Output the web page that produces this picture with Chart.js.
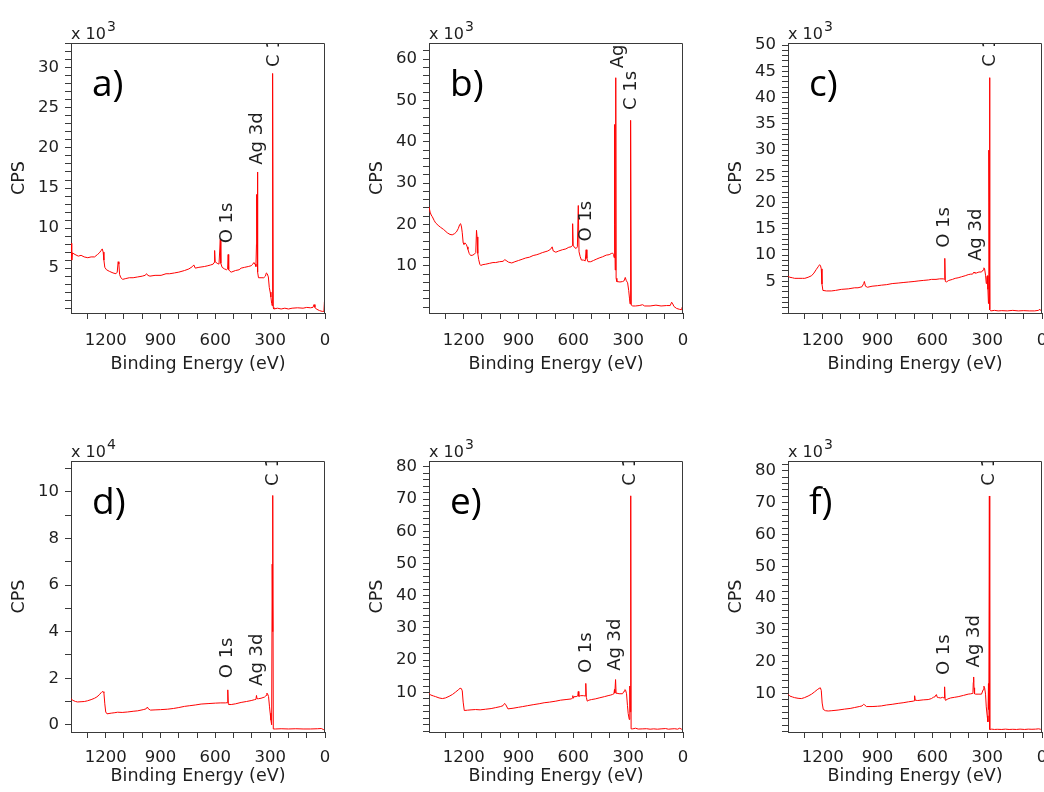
<!DOCTYPE html>
<html>
<head>
<meta charset="utf-8">
<script src="https://cdn.jsdelivr.net/npm/chart.js@4/dist/chart.umd.min.js"></script>
<style>
  html, body { margin: 0; padding: 0; background: #ffffff; overflow: hidden; }
  #page { position: relative; width: 1044px; height: 792px; }
  #page canvas { position: absolute; }
</style>
</head>
<body>
<div id="page"></div>
<script>
// XPS survey spectra: [binding energy (eV), counts per second in the panel's unit]
const spectrumA = [
  [1390, 8.1], [1386, 6.0], [1382, 6.9], [1368, 6.7], [1350, 6.5], [1335, 6.6], [1318, 6.4], [1298, 6.3],
  [1280, 6.4], [1261, 6.4], [1245, 6.7], [1235, 6.9], [1225, 7.2], [1219, 7.4], [1214, 7.0], [1210, 6.0],
  [1205, 5.1], [1196, 4.8], [1180, 4.6], [1160, 4.4], [1144, 4.3], [1137, 4.5], [1132, 5.8], [1128, 5.5],
  [1124, 4.2], [1117, 3.8], [1107, 3.6], [1090, 3.7], [1071, 3.8], [1050, 3.8], [1025, 3.9], [1000, 4.0],
  [985, 4.1], [976, 4.3], [970, 4.1], [958, 4.0], [930, 4.1], [897, 4.1], [870, 4.3], [850, 4.3],
  [824, 4.4], [800, 4.5], [769, 4.7], [745, 4.9], [725, 5.2], [718, 5.4], [710, 5.0], [690, 5.1],
  [660, 5.2], [641, 5.3], [625, 5.4], [612, 5.5], [607, 5.7], [604, 7.2], [601, 5.8], [590, 5.6],
  [580, 5.5], [575, 5.5], [573, 8.6], [570, 5.6], [563, 5.1], [550, 4.9], [538, 4.8], [533, 4.9],
  [530, 6.7], [527, 4.8], [520, 4.6], [513, 4.5], [490, 4.7], [470, 4.8], [459, 5.0], [440, 5.1],
  [420, 5.2], [404, 5.3], [395, 5.5], [389, 5.7], [383, 5.5], [378, 5.2], [375, 8.0], [374, 14.2],
  [372, 9.0], [370, 6.0], [369, 17.0], [367, 4.5], [364, 3.8], [350, 3.8], [335, 3.8], [326, 4.0],
  [321, 4.4], [316, 4.3], [310, 3.9], [305, 2.6], [300, 2.0], [296, 1.4], [292, 0.6], [289, 0.3],
  [288, 19.4], [287, 12.0], [285, 29.3], [283, 0.1], [280, -0.1], [260, 0.0], [240, -0.1], [220, 0.0],
  [200, -0.1], [180, 0.0], [150, 0.05], [120, 0.0], [100, 0.1], [80, 0.05], [66, 0.1], [60, 0.45],
  [55, 0.1], [48, -0.1], [30, -0.3], [15, -0.4], [6, -0.4], [3, 0.8], [1, -0.2]
];
const spectrumB = [
  [1390, 24.3], [1384, 23.0], [1378, 22.3], [1372, 21.9], [1362, 21.0], [1354, 20.4], [1340, 19.8], [1326, 19.3],
  [1310, 18.8], [1290, 18.0], [1275, 17.6], [1263, 17.5], [1250, 17.8], [1240, 18.2], [1230, 19.0], [1222, 20.0],
  [1217, 20.2], [1212, 19.4], [1208, 18.0], [1203, 15.6], [1199, 15.2], [1192, 15.5], [1186, 15.2], [1181, 14.6],
  [1177, 14.0], [1170, 13.0], [1162, 12.5], [1150, 12.6], [1140, 12.9], [1134, 13.2], [1130, 18.6], [1127, 17.0],
  [1123, 13.0], [1118, 11.5], [1112, 10.4], [1107, 10.1], [1095, 10.3], [1080, 10.4], [1060, 10.6], [1040, 10.8],
  [1025, 10.8], [1005, 11.0], [985, 11.1], [975, 11.5], [968, 11.3], [955, 10.9], [937, 10.7], [920, 11.0],
  [900, 11.3], [880, 11.6], [861, 11.9], [840, 12.1], [820, 12.5], [800, 12.7], [787, 12.9], [770, 13.2],
  [755, 13.4], [740, 13.6], [725, 14.0], [716, 14.6], [710, 13.6], [696, 13.3], [680, 13.6], [660, 13.9],
  [641, 14.1], [625, 14.5], [612, 14.6], [607, 14.9], [604, 20.2], [601, 15.0], [595, 14.5], [585, 14.2],
  [578, 14.6], [573, 24.6], [569, 13.4], [563, 12.3], [556, 11.4], [545, 11.4], [535, 11.2], [530, 13.9],
  [526, 11.8], [520, 11.0], [505, 11.0], [490, 11.3], [475, 11.6], [459, 11.9], [440, 12.2], [420, 12.6],
  [404, 12.7], [392, 13.0], [386, 13.1], [380, 12.8], [377, 12.0], [375, 44.2], [373, 20.0], [371, 9.0],
  [368, 55.5], [366, 7.0], [362, 6.2], [345, 6.1], [331, 6.2], [322, 6.4], [316, 7.2], [310, 6.4],
  [303, 5.9], [297, 4.0], [293, 2.2], [290, 0.8], [288, 35.6], [287, 20.0], [285, 45.2], [283, 0.5],
  [275, 0.3], [260, 0.3], [240, 0.4], [221, 0.6], [210, 0.3], [180, 0.3], [148, 0.5], [120, 0.3],
  [90, 0.4], [70, 0.4], [62, 1.2], [56, 0.8], [50, 0.2], [35, -0.3], [20, -0.5], [8, -0.6],
  [4, 0.0], [2, 3.8], [1, -0.8]
];
const spectrumC = [
  [1390, 6.0], [1380, 5.8], [1365, 5.7], [1354, 5.6], [1330, 5.6], [1310, 5.6], [1298, 5.6], [1280, 5.8],
  [1261, 6.1], [1248, 6.6], [1235, 7.3], [1225, 7.8], [1217, 8.2], [1212, 8.0], [1208, 7.4], [1204, 4.5],
  [1199, 3.3], [1180, 3.2], [1153, 3.2], [1130, 3.3], [1098, 3.5], [1060, 3.6], [1025, 3.8], [1007, 3.8],
  [985, 4.0], [976, 4.6], [972, 5.0], [966, 4.1], [955, 3.9], [930, 4.1], [900, 4.2], [879, 4.3],
  [850, 4.4], [820, 4.6], [787, 4.7], [760, 4.8], [730, 4.9], [700, 5.0], [678, 5.1], [650, 5.2],
  [620, 5.3], [605, 5.4], [580, 5.4], [560, 5.5], [540, 5.5], [534, 5.4], [532, 9.4], [529, 5.0],
  [524, 4.9], [510, 5.2], [490, 5.4], [475, 5.6], [459, 5.7], [440, 5.9], [420, 6.1], [404, 6.3],
  [390, 6.4], [380, 6.4], [372, 6.8], [368, 6.6], [360, 6.6], [345, 6.8], [331, 6.8], [322, 7.2],
  [318, 7.6], [314, 7.4], [309, 6.2], [305, 4.6], [302, 5.8], [299, 6.1], [296, 3.5], [293, 0.8],
  [291, 30.0], [289, 20.0], [287, 43.8], [285, -0.4], [280, -0.6], [260, -0.5], [240, -0.6], [220, -0.55],
  [190, -0.6], [160, -0.5], [130, -0.6], [100, -0.55], [70, -0.6], [40, -0.6], [20, -0.5], [11, -0.3],
  [5, -0.6], [1, -0.7]
];
const spectrumD = [
  [1390, 1.12], [1380, 1.05], [1365, 1.0], [1354, 0.98], [1335, 0.99], [1317, 1.0], [1300, 1.03], [1280, 1.08],
  [1261, 1.14], [1248, 1.2], [1235, 1.29], [1225, 1.38], [1220, 1.42], [1214, 1.42], [1210, 1.38], [1205, 0.9],
  [1200, 0.55], [1193, 0.47], [1170, 0.5], [1150, 0.52], [1135, 0.54], [1110, 0.53], [1080, 0.55], [1050, 0.58],
  [1025, 0.6], [995, 0.65], [980, 0.68], [972, 0.76], [966, 0.68], [955, 0.63], [930, 0.64], [900, 0.65],
  [861, 0.67], [830, 0.7], [800, 0.74], [769, 0.79], [740, 0.82], [710, 0.85], [678, 0.89], [640, 0.91],
  [600, 0.93], [570, 0.94], [545, 0.94], [535, 0.95], [532, 1.5], [529, 0.9], [526, 0.87], [513, 0.87],
  [490, 0.9], [459, 0.96], [430, 1.0], [404, 1.04], [385, 1.08], [378, 1.09], [375, 1.26], [372, 1.12],
  [364, 1.12], [350, 1.14], [331, 1.19], [322, 1.26], [318, 1.36], [314, 1.32], [309, 1.22], [304, 0.8],
  [300, 0.5], [296, 0.2], [292, 0.0], [289, 6.9], [287, 4.0], [285, 9.85], [283, -0.18], [270, -0.18],
  [240, -0.17], [200, -0.18], [160, -0.17], [120, -0.18], [80, -0.18], [40, -0.17], [20, -0.16], [10, -0.2],
  [2, -0.22]
];
const spectrumE = [
  [1390, 9.7], [1380, 9.2], [1365, 8.9], [1354, 8.7], [1335, 8.3], [1317, 8.1], [1300, 8.3], [1280, 8.8],
  [1261, 9.4], [1245, 10.1], [1230, 10.8], [1220, 11.3], [1213, 11.2], [1208, 10.5], [1203, 7.0], [1197, 4.4],
  [1180, 4.5], [1160, 4.6], [1135, 4.7], [1110, 4.6], [1080, 4.8], [1050, 5.0], [1025, 5.3], [1000, 5.6],
  [985, 5.9], [976, 6.6], [970, 6.2], [958, 4.9], [930, 5.1], [900, 5.4], [879, 5.6], [850, 5.9],
  [820, 6.2], [787, 6.5], [760, 6.8], [730, 7.0], [696, 7.3], [670, 7.6], [640, 7.8], [610, 8.0],
  [605, 8.3], [603, 9.0], [600, 8.2], [596, 8.7], [585, 8.7], [577, 8.9], [575, 9.6], [573, 10.3],
  [570, 8.8], [560, 9.0], [545, 9.0], [535, 8.9], [532, 12.8], [529, 8.5], [524, 7.3], [515, 7.6],
  [500, 7.8], [480, 8.0], [459, 8.3], [430, 8.7], [410, 9.0], [395, 9.2], [385, 9.4], [378, 9.6],
  [375, 10.9], [373, 9.8], [369, 14.0], [366, 9.7], [364, 9.8], [350, 9.6], [331, 9.6], [322, 10.4],
  [318, 10.9], [314, 10.7], [309, 9.6], [304, 6.0], [300, 3.5], [294, 1.6], [291, 12.0], [289, 4.0],
  [286, 71.0], [284, -1.3], [275, -1.3], [260, -1.1], [245, -1.35], [220, -1.3], [200, -1.25], [180, -1.4],
  [160, -1.3], [140, -1.4], [120, -1.3], [95, -1.2], [80, -1.4], [60, -1.3], [45, -1.25], [30, -1.4],
  [18, -1.1], [8, -1.4], [2, -1.45]
];
const spectrumF = [
  [1390, 9.8], [1380, 9.2], [1365, 8.9], [1354, 8.7], [1335, 8.5], [1317, 8.4], [1300, 8.7], [1280, 9.2],
  [1261, 9.8], [1245, 10.5], [1230, 11.2], [1220, 11.6], [1213, 11.8], [1208, 11.0], [1203, 7.0], [1197, 5.0],
  [1185, 4.6], [1170, 4.5], [1150, 4.6], [1116, 4.8], [1080, 5.1], [1050, 5.3], [1025, 5.6], [1000, 5.9],
  [985, 6.1], [976, 6.6], [970, 6.4], [961, 5.9], [930, 5.9], [900, 6.0], [879, 6.1], [850, 6.4],
  [820, 6.6], [787, 6.9], [760, 7.1], [730, 7.4], [705, 7.6], [700, 7.7], [697, 9.3], [694, 7.9],
  [680, 7.8], [650, 8.0], [623, 8.1], [605, 8.4], [595, 8.8], [585, 9.0], [580, 9.6], [577, 9.5],
  [573, 8.8], [565, 8.7], [554, 8.6], [545, 8.8], [536, 8.6], [533, 12.1], [530, 8.0], [527, 7.9],
  [515, 8.3], [500, 8.6], [480, 8.8], [459, 9.0], [430, 9.4], [404, 9.8], [390, 9.9], [382, 10.0],
  [378, 10.2], [376, 13.5], [374, 15.2], [372, 11.8], [369, 9.9], [364, 9.8], [350, 9.8], [331, 9.8],
  [322, 11.2], [318, 12.3], [314, 11.8], [309, 9.8], [305, 5.8], [300, 3.0], [296, 1.1], [293, 13.1],
  [291, 5.0], [288, 72.1], [286, -1.3], [275, -1.2], [260, -1.3], [245, -1.25], [220, -1.3], [200, -1.2],
  [180, -1.3], [160, -1.25], [140, -1.3], [120, -1.2], [95, -1.3], [75, -1.2], [55, -1.25], [35, -1.2],
  [18, -1.1], [8, -1.25], [2, -1.3]
];

// Peak annotations: [text, binding energy (eV), counts where the label starts]
const peakLabelsA = [['O 1s', 537, 8.1], ['Ag 3d', 370, 17.9], ['C 1s', 280, 30.1]];
const peakLabelsB = [['O 1s', 528, 15.9], ['Ag 3d', 355, 57.8], ['C 1s', 285, 47.7]];
const peakLabelsC = [['O 1s', 537, 11.4], ['Ag 3d', 358, 8.9], ['C 1s', 285, 45.9]];
const peakLabelsD = [['O 1s', 533, 2.0], ['Ag 3d', 369, 1.67], ['C 1s', 283, 10.26]];
const peakLabelsE = [['O 1s', 530, 16.0], ['Ag 3d', 373, 16.7], ['C 1s', 287, 74.1]];
const peakLabelsF = [['O 1s', 535, 15.8], ['Ag 3d', 373, 18.2], ['C 1s', 288, 75.3]];

// Axis extents and tick spacing
const energyRange = [0, 1390];
const energyMinorStep = 100;
const energyLabelStep = 300;
const countRangeA = [-0.6, 33.1];
const countRangeB = [-1.4, 63.9];
const countRangeC = [-1.0, 50.4];
const countRangeD = [-0.31, 11.33];
const countRangeE = [-2.27, 81.8];
const countRangeF = [-2.1, 83.1];
const countStepsA = [1, 5];
const countStepsB = [2, 10];
const countStepsC = [1, 5];
const countStepsD = [1, 2];
const countStepsE = [2, 10];
const countStepsF = [2, 10];

const FONT = "'DejaVu Sans', sans-serif";
const TEXT = '#1e1e1e';
const AXIS = '#3a3a3a';
const LINE = '#ff0000';

// Upper row has a little more room under the plots than the lower row
const ROW_TOP = { top: 0, plotH: 270, axisH: 62, tickPad: 12 };
const ROW_BOTTOM = { top: 418, plotH: 271, axisH: 55, tickPad: 10 };

const panels = [
  { tag: 'a)', exp: '3', data: spectrumA, peaks: peakLabelsA, range: countRangeA, steps: countStepsA, zero: false, left: 0,   width: 358, row: ROW_TOP },
  { tag: 'b)', exp: '3', data: spectrumB, peaks: peakLabelsB, range: countRangeB, steps: countStepsB, zero: false, left: 358, width: 359, row: ROW_TOP },
  { tag: 'c)', exp: '3', data: spectrumC, peaks: peakLabelsC, range: countRangeC, steps: countStepsC, zero: false, left: 717, width: 327, row: ROW_TOP },
  { tag: 'd)', exp: '4', data: spectrumD, peaks: peakLabelsD, range: countRangeD, steps: countStepsD, zero: true,  left: 0,   width: 358, row: ROW_BOTTOM },
  { tag: 'e)', exp: '3', data: spectrumE, peaks: peakLabelsE, range: countRangeE, steps: countStepsE, zero: false, left: 358, width: 359, row: ROW_BOTTOM },
  { tag: 'f)', exp: '3', data: spectrumF, peaks: peakLabelsF, range: countRangeF, steps: countStepsF, zero: false, left: 717, width: 327, row: ROW_BOTTOM }
];

const Y_AXIS_W = 71, TOP_PAD = 43, PLOT_W = 254;

// Every multiple of `step` inside [min, max]
function stepTicks(min, max, step) {
  const out = [];
  for (let k = Math.ceil(min / step - 1e-9); k * step <= max + 1e-9; k++) {
    out.push({ value: Math.round(k * step * 1e6) / 1e6 });
  }
  return out;
}

// Frame, panel letter, exponent and rotated peak labels
const panelDecor = {
  id: 'panelDecor',
  afterDatasetsDraw(chart, args, opts) {
    const { ctx, chartArea: a, scales: { x, y } } = chart;

    ctx.save();
    ctx.beginPath();
    ctx.rect(a.left, a.top, a.right - a.left, a.bottom - a.top);
    ctx.clip();
    ctx.fillStyle = TEXT;
    ctx.font = `18px ${FONT}`;
    ctx.textAlign = 'left';
    ctx.textBaseline = 'middle';
    for (const [text, energy, counts] of opts.peaks) {
      ctx.save();
      ctx.translate(x.getPixelForValue(energy), y.getPixelForValue(counts));
      ctx.rotate(-Math.PI / 2);
      ctx.fillText(text, 0, 0);
      ctx.restore();
    }
    ctx.restore();

    ctx.save();
    ctx.strokeStyle = AXIS;
    ctx.lineWidth = 1;
    ctx.beginPath();
    const t = Math.round(a.top) + 0.5, r = Math.round(a.right) - 0.5;
    ctx.moveTo(Math.round(a.left), t);
    ctx.lineTo(r, t);
    ctx.lineTo(r, Math.round(a.bottom));
    ctx.stroke();
    ctx.restore();

    ctx.save();
    ctx.fillStyle = '#000000';
    ctx.font = "37px 'Open Sans', sans-serif";
    ctx.textAlign = 'left';
    ctx.textBaseline = 'alphabetic';
    ctx.fillText(opts.tag, a.left + 21, a.top + 53);

    ctx.fillStyle = TEXT;
    ctx.font = `16px ${FONT}`;
    ctx.fillText('x 10', a.left, a.top - 4);
    const w = ctx.measureText('x 10').width;
    ctx.font = `14px ${FONT}`;
    ctx.fillText(opts.exp, a.left + w + 1, a.top - 12);
    ctx.restore();
  }
};

const page = document.getElementById('page');

panels.forEach(p => {
  const row = p.row;
  const canvas = document.createElement('canvas');
  const height = TOP_PAD + row.plotH + row.axisH;
  canvas.width = p.width;
  canvas.height = height;
  canvas.style.left = p.left + 'px';
  canvas.style.top = row.top + 'px';
  canvas.style.width = p.width + 'px';
  canvas.style.height = height + 'px';
  page.appendChild(canvas);

  const [minorStep, majorStep] = p.steps;

  new Chart(canvas, {
    type: 'line',
    data: {
      datasets: [{
        data: p.data,
        borderColor: LINE,
        borderWidth: 1,
        pointRadius: 0,
        tension: 0,
        fill: false
      }]
    },
    options: {
      responsive: false,
      animation: false,
      devicePixelRatio: 1,
      layout: { padding: { top: TOP_PAD, right: p.width - Y_AXIS_W - PLOT_W, bottom: 0, left: 0 } },
      plugins: {
        legend: { display: false },
        tooltip: { enabled: false },
        panelDecor: { tag: p.tag, exp: p.exp, peaks: p.peaks }
      },
      scales: {
        x: {
          type: 'linear',
          reverse: true,
          min: energyRange[0],
          max: energyRange[1],
          afterBuildTicks(scale) { scale.ticks = stepTicks(energyRange[0], energyRange[1], energyMinorStep); },
          afterFit(scale) { scale.height = row.axisH; scale.paddingLeft = 0; scale.paddingRight = 0; },
          border: { display: true, color: AXIS, width: 1 },
          grid: { display: true, drawOnChartArea: false, drawTicks: true, tickLength: 6, tickColor: AXIS, tickWidth: 1 },
          ticks: {
            autoSkip: false,
            maxRotation: 0,
            padding: row.tickPad,
            color: TEXT,
            font: { family: FONT, size: 16.5 },
            callback: v => (Math.round(v) % energyLabelStep === 0 ? String(Math.round(v)) : '')
          },
          title: { display: true, text: 'Binding Energy (eV)', color: TEXT, font: { family: FONT, size: 17.5 }, padding: { top: 0, bottom: 0 } }
        },
        y: {
          type: 'linear',
          min: p.range[0],
          max: p.range[1],
          afterBuildTicks(scale) { scale.ticks = stepTicks(p.range[0], p.range[1], minorStep); },
          afterFit(scale) { scale.width = Y_AXIS_W; scale.paddingTop = 0; scale.paddingBottom = 0; },
          border: { display: true, color: AXIS, width: 1 },
          grid: { display: true, drawOnChartArea: false, drawTicks: true, tickLength: 6, tickColor: AXIS, tickWidth: 1 },
          ticks: {
            autoSkip: false,
            padding: 6,
            color: TEXT,
            font: { family: FONT, size: 16.5 },
            callback: v => {
              const major = Math.abs(v / majorStep - Math.round(v / majorStep)) < 1e-6;
              return major && (v > 0 || (p.zero && v === 0)) ? String(v) : '';
            }
          },
          title: { display: true, text: 'CPS', color: TEXT, font: { family: FONT, size: 17.5 }, padding: { top: 9, bottom: 0 } }
        }
      }
    },
    plugins: [panelDecor]
  });
});
</script>
</body>
</html>
